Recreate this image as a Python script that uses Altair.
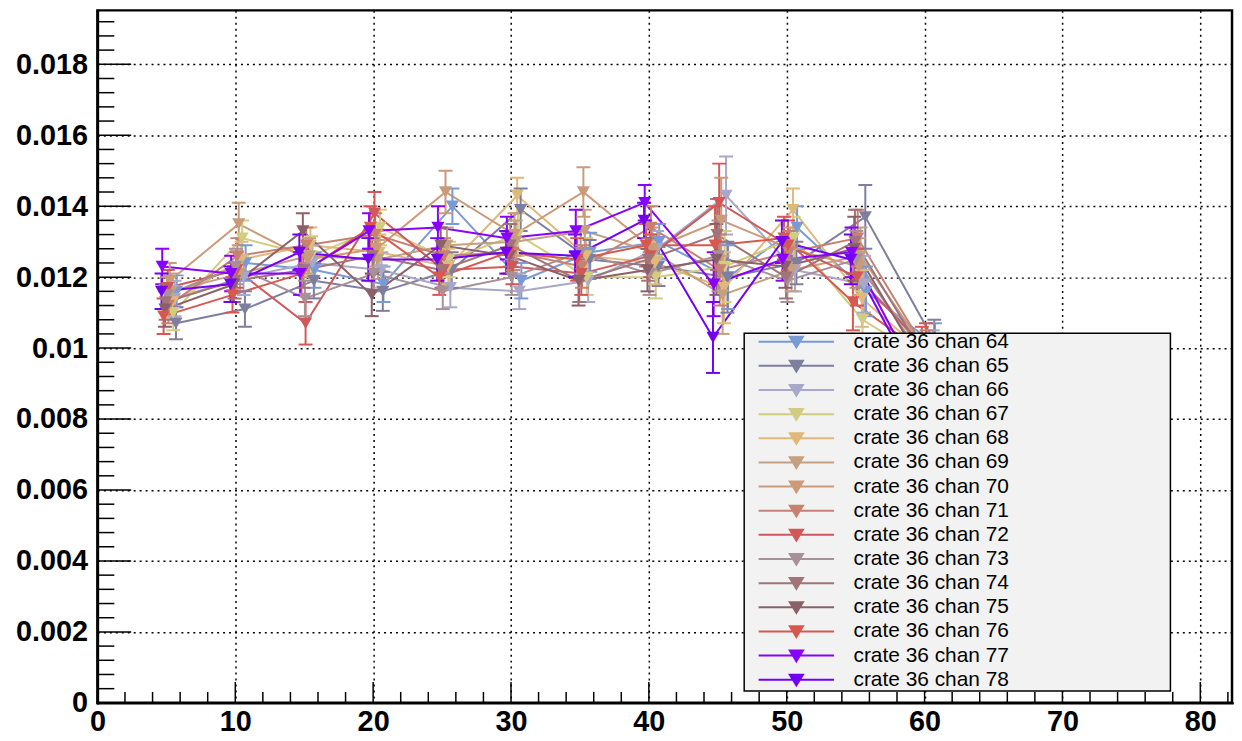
import altair as alt
import pandas as pd

# ---------------- data ----------------
x_base = [5, 10, 15, 20, 25, 30, 35, 40, 45, 50, 55, 60]
channels = [64, 65, 66, 67, 68, 69, 70, 71, 72, 73, 74, 75, 76, 77, 78]
x_offsets = [0.75, 0.7, 0.6, 0.5, 0.45, 0.35, 0.25, 0.15, 0.1, 0.05, -0.05, -0.1, -0.2, -0.3, -0.35]
colors = ["#7a9ad4", "#7e7e9e", "#a8a8c8", "#d2cc80", "#e0b87a", "#c4a080", "#cc9a78",
          "#c88070", "#d05858", "#a89098", "#a07478", "#8c6068", "#d85850", "#8a00ff", "#7400f4"]

values = {
    64: [0.0116, 0.0124, 0.0122, 0.0118, 0.0140, 0.0119, 0.0127, 0.0130, 0.0120, 0.0134, 0.0116, 0.0101],
    65: [0.0107, 0.0111, 0.0119, 0.0116, 0.0122, 0.0139, 0.0125, 0.0123, 0.0120, 0.0124, 0.0137, 0.0102],
    66: [0.0114, 0.0120, 0.0124, 0.0122, 0.0117, 0.0116, 0.0119, 0.0128, 0.0143, 0.0122, 0.0118, 0.0099],
    67: [0.0110, 0.0131, 0.0126, 0.0134, 0.0125, 0.0132, 0.0120, 0.0120, 0.0123, 0.0131, 0.0108, 0.0096],
    68: [0.0113, 0.0125, 0.0129, 0.0127, 0.0123, 0.0143, 0.0126, 0.0124, 0.0117, 0.0139, 0.0114, 0.0097],
    69: [0.0116, 0.0121, 0.0126, 0.0125, 0.0129, 0.0130, 0.0133, 0.0127, 0.0115, 0.0122, 0.0126, 0.0098],
    70: [0.0119, 0.0135, 0.0125, 0.0128, 0.0144, 0.0132, 0.0144, 0.0128, 0.0136, 0.0128, 0.0123, 0.0097],
    71: [0.0112, 0.0126, 0.0129, 0.0132, 0.0126, 0.0127, 0.0123, 0.0134, 0.0122, 0.0127, 0.0131, 0.0099],
    72: [0.0117, 0.0122, 0.0107, 0.0138, 0.0122, 0.0123, 0.0121, 0.0126, 0.0141, 0.0129, 0.0120, 0.0100],
    73: [0.0115, 0.0123, 0.0114, 0.0121, 0.0116, 0.0120, 0.0127, 0.0121, 0.0126, 0.0119, 0.0125, 0.0096],
    74: [0.0113, 0.0119, 0.0122, 0.0126, 0.0122, 0.0129, 0.0119, 0.0125, 0.0132, 0.0120, 0.0130, 0.0098],
    75: [0.0111, 0.0118, 0.0133, 0.0115, 0.0129, 0.0126, 0.0119, 0.0122, 0.0125, 0.0123, 0.0128, 0.0095],
    76: [0.0109, 0.0115, 0.0121, 0.0134, 0.0120, 0.0127, 0.0125, 0.0129, 0.0129, 0.0131, 0.0113, 0.0099],
    77: [0.0123, 0.0121, 0.0121, 0.0133, 0.0134, 0.0131, 0.0133, 0.0141, 0.0118, 0.0125, 0.0127, 0.0090],
    78: [0.0116, 0.0118, 0.0127, 0.0125, 0.0125, 0.0127, 0.0126, 0.0136, 0.0103, 0.0130, 0.0125, 0.0089],
}

errors = {
    64: [0.00045, 0.0005, 0.0005, 0.0005, 0.0005, 0.0005, 0.00055, 0.0005, 0.0009, 0.0006, 0.0007, 0.0006],
    65: [0.00045, 0.0005, 0.0005, 0.00055, 0.0005, 0.0006, 0.00055, 0.00055, 0.0010, 0.0006, 0.0009, 0.0006],
    66: [0.0005, 0.0005, 0.0005, 0.0005, 0.00055, 0.0005, 0.0006, 0.0005, 0.0011, 0.0006, 0.0008, 0.0006],
    67: [0.0005, 0.0005, 0.00055, 0.0005, 0.0005, 0.0006, 0.0005, 0.0006, 0.0010, 0.0006, 0.0008, 0.0006],
    68: [0.00045, 0.0005, 0.0005, 0.0005, 0.0005, 0.0005, 0.0005, 0.0006, 0.0010, 0.0006, 0.0008, 0.0006],
    69: [0.0005, 0.0005, 0.0005, 0.00055, 0.0005, 0.0006, 0.0006, 0.0005, 0.0011, 0.0006, 0.0008, 0.0006],
    70: [0.0005, 0.0006, 0.0005, 0.0005, 0.0006, 0.0006, 0.0007, 0.0006, 0.0012, 0.0006, 0.0008, 0.0006],
    71: [0.0005, 0.0005, 0.0005, 0.0006, 0.0005, 0.0005, 0.0006, 0.0006, 0.0010, 0.0006, 0.0008, 0.0006],
    72: [0.0005, 0.0005, 0.0006, 0.0006, 0.0005, 0.0005, 0.0006, 0.0006, 0.0011, 0.0007, 0.0008, 0.0007],
    73: [0.0005, 0.0005, 0.0005, 0.0005, 0.0005, 0.0005, 0.0006, 0.0006, 0.0010, 0.0006, 0.0008, 0.0006],
    74: [0.0005, 0.0005, 0.0005, 0.0005, 0.0005, 0.0006, 0.0006, 0.0006, 0.0010, 0.0006, 0.0009, 0.0006],
    75: [0.0005, 0.0005, 0.0005, 0.0006, 0.0005, 0.0005, 0.0007, 0.0006, 0.0010, 0.0006, 0.0009, 0.0006],
    76: [0.0005, 0.0005, 0.0006, 0.0006, 0.0005, 0.0006, 0.0006, 0.0006, 0.0011, 0.0006, 0.0008, 0.0007],
    77: [0.0005, 0.0005, 0.0006, 0.0005, 0.0006, 0.0006, 0.0006, 0.0005, 0.0009, 0.0006, 0.0007, 0.0007],
    78: [0.0005, 0.0005, 0.0005, 0.0006, 0.0006, 0.0006, 0.0006, 0.0005, 0.0010, 0.0006, 0.0007, 0.0007],
}

y_major = [0.002, 0.004, 0.006, 0.008, 0.01, 0.012, 0.014, 0.016, 0.018]
y_minor = [0.0004, 0.0008, 0.0012, 0.0016, 0.0024, 0.0028, 0.0032, 0.0036, 0.0044, 0.0048,
           0.0052, 0.0056, 0.0064, 0.0068, 0.0072, 0.0076, 0.0084, 0.0088, 0.0092, 0.0096,
           0.0104, 0.0108, 0.0112, 0.0116, 0.0124, 0.0128, 0.0132, 0.0136, 0.0144, 0.0148,
           0.0152, 0.0156, 0.0164, 0.0168, 0.0172, 0.0176, 0.0184, 0.0188, 0.0192]
x_major = [10, 20, 30, 40, 50, 60, 70, 80]
x_minor = [2, 4, 6, 8, 12, 14, 16, 18, 22, 24, 26, 28, 32, 34, 36, 38, 42, 44, 46, 48,
           52, 54, 56, 58, 62, 64, 66, 68, 72, 74, 76, 78, 82]
y_axis_values = [0, 0.002, 0.004, 0.006, 0.008, 0.01, 0.012, 0.014, 0.016, 0.018]
x_axis_values = [0, 10, 20, 30, 40, 50, 60, 70, 80]

# ---------------- build table ----------------
rows = []
for ch, off in zip(channels, x_offsets):
    for xb, v, e in zip(x_base, values[ch], errors[ch]):
        rows.append({"series": f"crate 36 chan {ch}", "order": ch, "x": xb + off,
                     "y": v, "lo": v - e, "hi": v + e})
df = pd.DataFrame(rows)
names = [f"crate 36 chan {ch}" for ch in channels]

W, H = 1142, 697
xs = alt.Scale(domain=[0, 82.3], nice=False, zero=False)
ys = alt.Scale(domain=[0, 0.01952], nice=False, zero=False)
cscale = alt.Scale(domain=names, range=colors)

legend_path = ("M-6.33,0L6.33,0M-1.1,-0.85L1.1,-0.85L0,0.95Z"
               "M-0.55,-0.85L0,0.95M0.55,-0.85L0,0.95M0,-0.85L0,0.95")
leg = alt.Legend(title=None, orient="none", legendX=693, legendY=323,
                 symbolType=legend_path, symbolSize=144, symbolStrokeWidth=2,
                 symbolOpacity=1, labelOffset=47, labelFont="Liberation Sans",
                 labelFontSize=21, labelColor="black", labelLimit=300,
                 rowPadding=2.3, padding=0, fillColor="transparent")

xaxis = alt.Axis(values=x_axis_values, format="d", grid=True, gridColor="black",
                 gridDash=[2, 4], gridWidth=1.5, gridOpacity=1, ticks=False,
                 domainColor="black", domainWidth=2.5, labelFont="Liberation Sans",
                 labelFontWeight="bold", labelFontSize=29, labelColor="black",
                 labelPadding=5, title=None, labelFlush=False)
yaxis = alt.Axis(values=y_axis_values, format="~g", grid=True, gridColor="black",
                 gridDash=[2, 4], gridWidth=1.5, gridOpacity=1, ticks=False,
                 domainColor="black", domainWidth=2.5, labelFont="Liberation Sans",
                 labelFontWeight="bold", labelFontSize=29, labelColor="black",
                 labelPadding=10, title=None, labelFlush=False)

base = alt.Chart(df)

lines = base.mark_line(strokeWidth=2, clip=True).encode(
    x=alt.X("x:Q", scale=xs, axis=xaxis),
    y=alt.Y("y:Q", scale=ys, axis=yaxis),
    color=alt.Color("series:N", scale=cscale, legend=leg),
    detail="series:N",
    order="x:Q",
)
bars = base.mark_rule(strokeWidth=2, clip=True).encode(
    x="x:Q", y="lo:Q", y2="hi:Q",
    color=alt.Color("series:N", scale=cscale, legend=leg),
)
cap_lo = base.mark_tick(orient="horizontal", size=14, thickness=2, opacity=1, clip=True).encode(
    x="x:Q", y="lo:Q", color=alt.Color("series:N", scale=cscale, legend=leg))
cap_hi = base.mark_tick(orient="horizontal", size=14, thickness=2, opacity=1, clip=True).encode(
    x="x:Q", y="hi:Q", color=alt.Color("series:N", scale=cscale, legend=leg))
pts = base.mark_point(filled=True, shape="triangle-down", size=175, opacity=1, clip=True).encode(
    x="x:Q", y="y:Q", color=alt.Color("series:N", scale=cscale, legend=leg))

ymaj = alt.Chart(pd.DataFrame({"v": y_major})).mark_rule(color="black", strokeWidth=1.5).encode(
    y=alt.Y("v:Q", scale=ys), x=alt.value(0), x2=alt.value(34))
ymin = alt.Chart(pd.DataFrame({"v": y_minor})).mark_rule(color="black", strokeWidth=1.5).encode(
    y=alt.Y("v:Q", scale=ys), x=alt.value(0), x2=alt.value(17))
xmaj = alt.Chart(pd.DataFrame({"v": x_major})).mark_rule(color="black", strokeWidth=1.5).encode(
    x=alt.X("v:Q", scale=xs), y=alt.value(H), y2=alt.value(H - 21))
xmin = alt.Chart(pd.DataFrame({"v": x_minor})).mark_rule(color="black", strokeWidth=1.5).encode(
    x=alt.X("v:Q", scale=xs), y=alt.value(H), y2=alt.value(H - 11))

box = alt.Chart(alt.Data(values=[{"a": 1}])).mark_rect(
    fill="#f2f2f2", stroke="black", strokeWidth=1.5).encode(
    x=alt.value(651), x2=alt.value(1080), y=alt.value(325), y2=alt.value(685))

chart = alt.layer(lines, bars, cap_lo, cap_hi, pts, ymaj, ymin, xmaj, xmin, box).properties(
    width=W, height=H,
    autosize=alt.AutoSizeParams(type="none"),
    padding={"left": 90, "top": 0, "right": 2, "bottom": 36},
    background="white",
).configure_view(stroke="black", strokeWidth=2.5).configure_axis(
    domainCap="square")

chart.save("out.html", embed_options={"renderer": "svg", "actions": False})
